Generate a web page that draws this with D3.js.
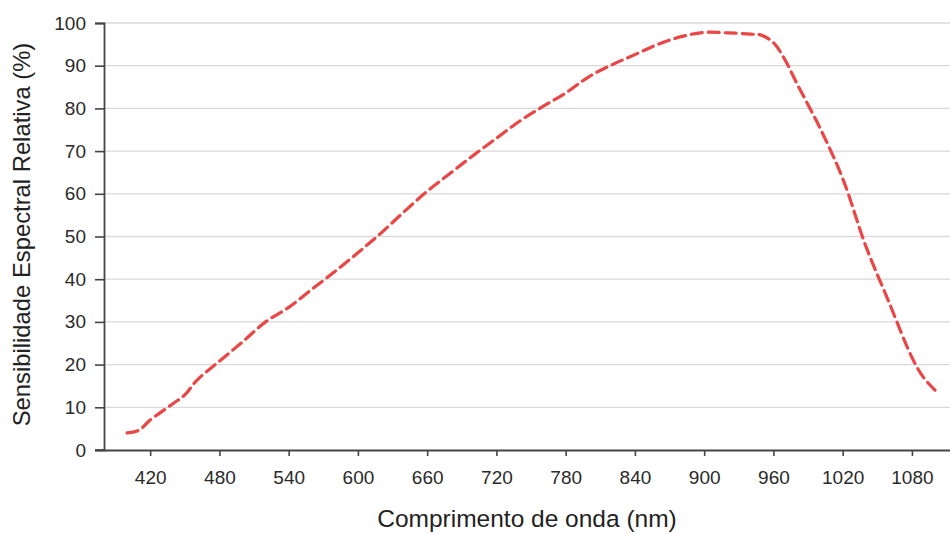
<!DOCTYPE html>
<html>
<head>
<meta charset="utf-8">
<script src="https://cdn.jsdelivr.net/npm/d3@7"></script>
<style>
  body { margin: 0; background: #fff; }
  svg { display: block; font-family: "Liberation Sans", Arial, sans-serif; }
</style>
</head>
<body>
<svg id="chart"></svg>
<script>
// wavelength (nm) and relative spectral sensitivity (%)
var wavelengths = [400, 410, 420, 440, 450, 460, 480, 500, 520, 540, 560, 580, 600, 620, 640, 660, 680, 700, 720, 740, 760, 780, 800, 820, 840, 860, 880, 900, 920, 940, 950, 960, 970, 980, 1000, 1020, 1040, 1060, 1080, 1090, 1100]
var sensitivity = [4, 4.6, 7, 10.9, 12.9, 16.2, 20.8, 25.3, 30, 33.4, 37.6, 41.8, 46.2, 50.8, 55.8, 60.6, 64.8, 69, 73, 77, 80.4, 83.6, 87.4, 90.2, 92.6, 95, 96.8, 97.8, 97.7, 97.4, 97.1, 95.4, 91.4, 86, 75.6, 63.6, 47.8, 34.7, 21.7, 17, 14]
var xTicks = [420, 480, 540, 600, 660, 720, 780, 840, 900, 960, 1020, 1080]
var yTicks = [0, 10, 20, 30, 40, 50, 60, 70, 80, 90, 100]

var data = wavelengths.map(function(d, i) { return { x: d, y: sensitivity[i] } })

var dimensions = {
  width: 950,
  height: 534,
  margin: { top: 23, right: 0, bottom: 84, left: 104 }
}
var innerW = dimensions.width - dimensions.margin.left - dimensions.margin.right
var innerH = dimensions.height - dimensions.margin.top - dimensions.margin.bottom

var svg = d3.select("#chart")
  .attr("width", dimensions.width)
  .attr("height", dimensions.height)

var g = svg.append("g")
  .attr("transform", "translate(" + dimensions.margin.left + "," + dimensions.margin.top + ")")

var x = d3.scaleLinear().domain([380, 1113]).range([0, innerW])
var y = d3.scaleLinear().domain([0, 100]).range([innerH, 0])

// horizontal grid
g.append("g")
  .selectAll("line")
  .data(yTicks.filter(function(d) { return d > 0 }))
  .join("line")
  .attr("x1", 0)
  .attr("x2", innerW)
  .attr("y1", d => y(d))
  .attr("y2", d => y(d))
  .attr("stroke", "#d9d9d9")
  .attr("stroke-width", 1.3)

// y axis
var yAxis = g.append("g")
  .call(d3.axisLeft(y).tickValues(yTicks).tickSize(9).tickPadding(9))
yAxis.select(".domain").attr("stroke", "#444").attr("stroke-width", 1.8)
yAxis.selectAll(".tick line").attr("stroke", "#444").attr("stroke-width", 1.6)
yAxis.selectAll(".tick text")
  .attr("fill", "#2a2a2a")
  .style("font-size", "19px")

// x axis
var xAxis = g.append("g")
  .attr("transform", "translate(0," + innerH + ")")
  .call(d3.axisBottom(x).tickValues(xTicks).tickFormat(d3.format("d")).tickSize(6).tickPadding(15).tickSizeOuter(0))
xAxis.select(".domain").attr("stroke", "#444").attr("stroke-width", 1.8)
xAxis.selectAll(".tick line").attr("stroke", "#444").attr("stroke-width", 1.6)
xAxis.selectAll(".tick text")
  .attr("fill", "#2a2a2a")
  .style("font-size", "19px")

// extend x axis line under the 0 tick on the left
g.append("line")
  .attr("x1", -9).attr("x2", 0)
  .attr("y1", innerH).attr("y2", innerH)
  .attr("stroke", "#444").attr("stroke-width", 1.6)

// the curve
var line = d3.line()
  .x(d => x(d.x))
  .y(d => y(d.y))
  .curve(d3.curveCatmullRom.alpha(0.5))

g.append("path")
  .datum(data)
  .attr("d", line)
  .attr("fill", "none")
  .attr("stroke", "#ea4646")
  .attr("stroke-width", 3.2)
  .attr("stroke-dasharray", "11,6")
  .attr("stroke-linecap", "round")

// axis titles
svg.append("text")
  .attr("x", dimensions.margin.left + innerW / 2)
  .attr("y", 527)
  .attr("text-anchor", "middle")
  .attr("fill", "#222")
  .style("font-size", "24.5px")
  .text("Comprimento de onda (nm)")

svg.append("text")
  .attr("transform", "translate(30," + (dimensions.margin.top + innerH / 2 - 2) + ") rotate(-90)")
  .attr("text-anchor", "middle")
  .attr("fill", "#222")
  .style("font-size", "23.8px")
  .text("Sensibilidade Espectral Relativa (%)")
</script>
</body>
</html>
